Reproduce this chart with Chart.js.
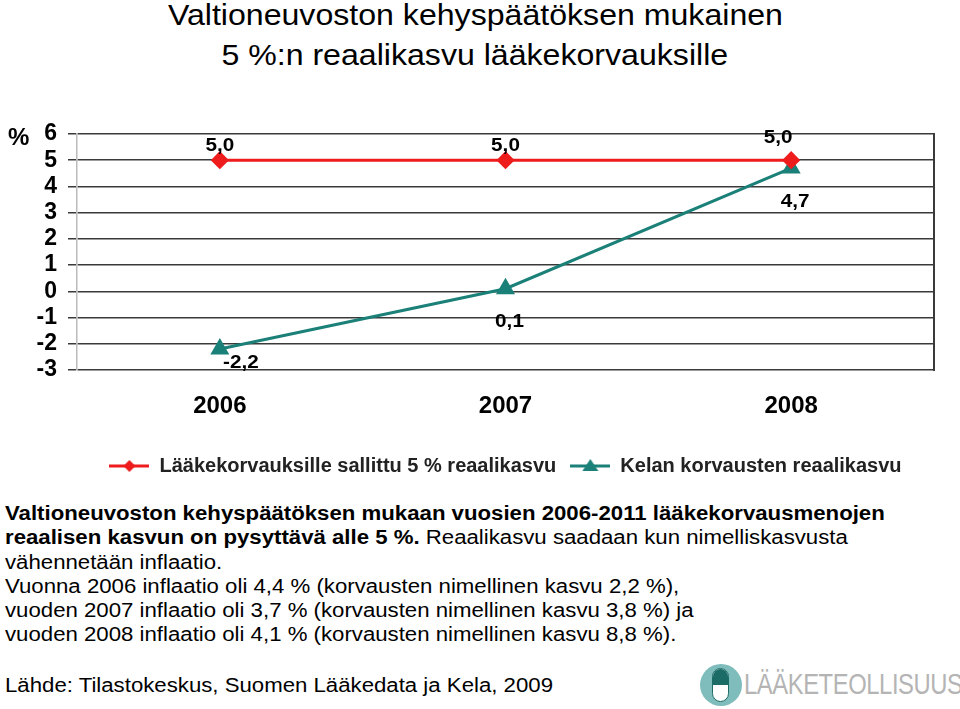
<!DOCTYPE html>
<html>
<head>
<meta charset="utf-8">
<script src="https://cdn.jsdelivr.net/npm/chart.js@4.4.1/dist/chart.umd.min.js"></script>
<style>
  html, body { margin:0; padding:0; background:#fff; }
  body { width:960px; height:709px; position:relative; overflow:hidden; font-family:"Liberation Sans", Arial, sans-serif; color:#000; }
  #title { position:absolute; left:0; width:950px; top:-5px; text-align:center; font-size:30px; line-height:40px; }
  #title span { display:inline-block; transform:scaleX(1.07); white-space:nowrap; }
  #chartWrap { position:absolute; left:0; top:0; width:960px; height:500px; }
  #pct { position:absolute; left:8px; top:123px; font-size:24px; font-weight:bold; }
  .stretch { transform:scaleX(1.11); transform-origin:left top; white-space:nowrap; }
  #notes { position:absolute; left:5px; top:501px; font-size:20px; line-height:24.3px; }
  #source { position:absolute; left:5px; top:674px; font-size:20px; }
  #logo { position:absolute; left:700px; top:663px; width:260px; height:44px; }
  #logo .circ { position:absolute; left:0; top:1px; width:42px; height:42px; border-radius:50%; background:#7fbcbc; }
  #logo .cap { position:absolute; left:12px; top:5px; width:17px; height:34px; border-radius:9px; overflow:hidden; background:#fff; border:1px solid #1b6b66; box-sizing:border-box; }
  #logo .cap div { position:absolute; left:0; top:0; width:100%; height:50%; background:#1b6b66; }
  #logo .txt { position:absolute; left:44px; top:5px; font-size:29px; color:#b4b4b4; letter-spacing:-0.5px; transform:scaleX(0.82); transform-origin:left center; white-space:nowrap; }
</style>
</head>
<body>
<div id="title"><span>Valtioneuvoston kehyspäätöksen mukainen</span><br><span>5 %:n reaalikasvu lääkekorvauksille</span></div>
<div id="chartWrap"><canvas id="c" width="960" height="500"></canvas></div>
<div id="pct">%</div>
<div id="notes" class="stretch"><b>Valtioneuvoston kehyspäätöksen mukaan vuosien 2006-2011 lääkekorvausmenojen<br>reaalisen kasvun on pysyttävä alle 5 %.</b> Reaalikasvu saadaan kun nimelliskasvusta<br>vähennetään inflaatio.<br>Vuonna 2006 inflaatio oli 4,4 % (korvausten nimellinen kasvu 2,2 %),<br>vuoden 2007 inflaatio oli 3,7 % (korvausten nimellinen kasvu 3,8 %) ja<br>vuoden 2008 inflaatio oli 4,1 % (korvausten nimellinen kasvu 8,8 %).</div>
<div id="source" class="stretch">Lähde: Tilastokeskus, Suomen Lääkedata ja Kela, 2009</div>
<div id="logo"><div class="circ"></div><div class="cap"><div></div></div><div class="txt">LÄÄKETEOLLISUUS</div></div>
<script>
const categories = ['2006', '2007', '2008'];
const allowedGrowth = [5.0, 5.0, 5.0];
const kelaGrowth = [-2.2, 0.1, 4.7];
const seriesNames = ['Lääkekorvauksille sallittu 5 % reaalikasvu', 'Kelan korvausten reaalikasvu'];
const yTicks = [-3, -2, -1, 0, 1, 2, 3, 4, 5, 6];

const RED = '#ee1c1c';
const TEAL = '#1a8078';
const FONT = '"Liberation Sans", Arial, sans-serif';

// label offsets (style only)
const labelOffsets = [
  [[0, -14], [0, -14], [-13, -22]],
  [[21, 14], [4, 33], [4, 34]]
];

function legendIcon(color, shape) {
  const c = document.createElement('canvas');
  c.width = 40; c.height = 16;
  const g = c.getContext('2d');
  g.strokeStyle = color; g.lineWidth = 3;
  g.beginPath(); g.moveTo(0, 8); g.lineTo(40, 8); g.stroke();
  g.fillStyle = color;
  g.beginPath();
  if (shape === 'diamond') {
    g.moveTo(20, 2); g.lineTo(26, 8); g.lineTo(20, 14); g.lineTo(14, 8);
  } else {
    g.moveTo(20, 1); g.lineTo(28, 13); g.lineTo(12, 13);
  }
  g.closePath(); g.fill();
  return c;
}
const icons = [legendIcon(RED, 'diamond'), legendIcon(TEAL, 'triangle')];

const fmt = v => v.toFixed(1).replace('.', ',');

const dataLabels = {
  id: 'dataLabels',
  afterDatasetsDraw(chart) {
    const ctx = chart.ctx;
    chart.data.datasets.forEach((ds, i) => {
      const meta = chart.getDatasetMeta(i);
      meta.data.forEach((pt, j) => {
        const off = labelOffsets[i][j];
        ctx.save();
        ctx.font = 'bold 18px ' + FONT;
        ctx.fillStyle = '#000';
        ctx.textAlign = 'center';
        ctx.textBaseline = 'middle';
        ctx.translate(pt.x + off[0], pt.y + off[1]);
        ctx.scale(1.15, 1);
        ctx.fillText(fmt(ds.data[j]), 0, 0);
        ctx.restore();
      });
    });
  }
};

new Chart(document.getElementById('c'), {
  type: 'line',
  data: {
    labels: categories,
    datasets: [
      { label: seriesNames[0], data: allowedGrowth, borderColor: RED, backgroundColor: RED, borderWidth: 3,
        pointStyle: 'rectRot', pointRadius: 7, pointHoverRadius: 7, tension: 0 },
      { label: seriesNames[1], data: kelaGrowth, borderColor: TEAL, backgroundColor: TEAL, borderWidth: 3,
        pointStyle: 'triangle', pointRadius: 8, pointHoverRadius: 8, tension: 0 }
    ]
  },
  options: {
    responsive: false,
    animation: false,
    events: [],
    layout: { padding: { top: 134, right: 26, left: 0, bottom: 14 } },
    scales: {
      x: {
        offset: true,
        grid: { display: false, drawTicks: false },
        border: { display: false },
        ticks: { color: '#000', font: { family: FONT, size: 24, weight: 'bold' }, padding: 22 },
        afterFit(s) { s.height = 72; }
      },
      y: {
        min: -3, max: 6,
        afterBuildTicks(s) { s.ticks = yTicks.map(v => ({ value: v })); },
        afterFit(s) { s.width = 77; },
        grid: { color: '#3a3a3a', lineWidth: 1.5, tickLength: 9, drawTicks: true, tickColor: '#3a3a3a' },
        border: { display: true, color: '#bbbbbb', width: 1.5 },
        ticks: { autoSkip: false, color: '#000', font: { family: FONT, size: 23, weight: 'bold' }, padding: 11 }
      },
      y2: {
        position: 'right', min: -3, max: 6,
        grid: { drawOnChartArea: false, drawTicks: false },
        border: { display: true, color: '#3a3a3a', width: 2 },
        ticks: { display: false },
        afterFit(s) { s.width = 0; }
      }
    },
    plugins: {
      legend: {
        position: 'bottom',
        fullSize: false,
        labels: {
          usePointStyle: true,
          pointStyleWidth: 40,
          color: '#222',
          font: { family: FONT, size: 20, weight: 'bold' },
          padding: 14,
          generateLabels(chart) {
            return chart.data.datasets.map((ds, i) => ({
              text: ds.label, pointStyle: icons[i], fillStyle: ds.borderColor, strokeStyle: ds.borderColor,
              lineWidth: 0, hidden: false, datasetIndex: i, fontColor: '#222'
            }));
          }
        }
      },
      tooltip: { enabled: false }
    }
  },
  plugins: [dataLabels]
});
</script>
</body>
</html>
